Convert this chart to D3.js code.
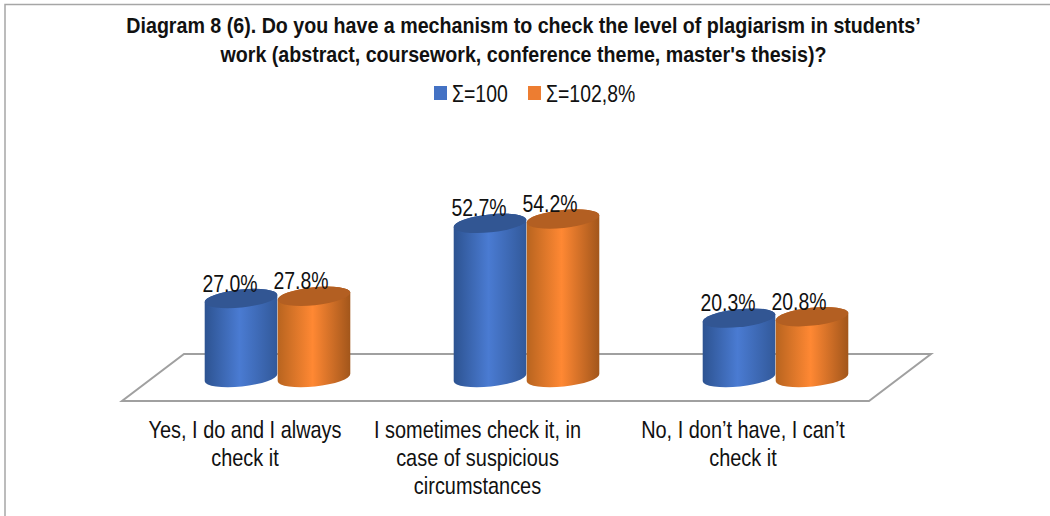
<!DOCTYPE html>
<html>
<head>
<meta charset="utf-8">
<script src="https://cdn.jsdelivr.net/npm/d3@7"></script>
<style>
  html, body { margin: 0; padding: 0; background: #fff; }
  text { font-family: "Liberation Sans", Arial, sans-serif; fill: #111; }
</style>
</head>
<body>
<div id="chart"></div>
<script>
var categories = ["Yes, I do and I always check it", "I sometimes check it, in case of suspicious circumstances", "No, I don\u2019t have, I can\u2019t check it"];
var categoryLines = [
  ["Yes, I do and I always", "check it"],
  ["I sometimes check it, in", "case of suspicious", "circumstances"],
  ["No, I don\u2019t have, I can\u2019t", "check it"]
];
var seriesNames = ["\u03a3=100", "\u03a3=102,8%"];
var series1 = [27.0, 52.7, 20.3];
var series2 = [27.8, 54.2, 20.8];
var titleLines = [
  "Diagram 8 (6). Do you have a mechanism to check the level of plagiarism in students\u2019",
  "work (abstract, coursework, conference theme, master's thesis)?"
];

var width = 1050, height = 516;
var floorLeft = 122, floorRight = 869, floorFront = 401, floorBack = 354, depth = 62;
var baseY = (floorFront + floorBack) / 2;
var rx = 36.5, ry = 9, tilt = -6 * Math.PI / 180;

var svg = d3.select("#chart").append("svg")
  .attr("width", width)
  .attr("height", height)
  .style("display", "block");

var x0 = d3.scaleBand().domain(categories).range([floorLeft, floorRight]);
var x1 = d3.scaleBand().domain(seriesNames).range([-2 * rx, 2 * rx]);
var y = d3.scaleLinear().domain([0, 60]).range([baseY, baseY - 175.5]);

// the original font is condensed, so squeeze the text sideways
function squeeze(px, py, sx) {
  return "translate(" + px + "," + py + ") scale(" + sx + ",1)";
}

// gradients for the cylinder sides
var defs = svg.append("defs");
var gradients = [
  ["#2d5391", "#4a7bd2", "#32599a"],
  ["#b8641f", "#ff8833", "#a2561b"]
];
gradients.forEach(function(g, i) {
  var lg = defs.append("linearGradient").attr("id", "side" + i);
  lg.append("stop").attr("offset", "0%").attr("stop-color", g[0]);
  lg.append("stop").attr("offset", "48%").attr("stop-color", g[1]);
  lg.append("stop").attr("offset", "100%").attr("stop-color", g[2]);
});
var topColors = ["#325693", "#b35f22"];
var legendColors = ["#4472c4", "#ed7d31"];

// outer frame, only the left and top edges are in the crop
svg.append("path")
  .attr("d", "M5,516V4.5H1050")
  .attr("fill", "none")
  .attr("stroke", "#a6a6a6")
  .attr("stroke-width", 1.5);

// title
svg.append("g").selectAll("text")
  .data(titleLines)
  .enter().append("text")
  .attr("transform", function(d, i) { return squeeze(523.5, 33 + i * 28.5, 0.893); })
  .attr("text-anchor", "middle")
  .attr("font-size", 22)
  .attr("font-weight", "bold")
  .text(function(d) { return d; });

// legend
var legendX = [434, 528];
var legend = svg.append("g").selectAll("g")
  .data(seriesNames)
  .enter().append("g")
  .attr("transform", function(d, i) { return "translate(" + legendX[i] + ",86)"; });
legend.append("rect")
  .attr("width", 13)
  .attr("height", 14)
  .attr("fill", function(d, i) { return legendColors[i]; });
legend.append("text")
  .attr("transform", squeeze(18, 15.5, 0.81))
  .attr("font-size", 24)
  .text(function(d) { return d; });

// floor
svg.append("path")
  .attr("d", d3.line()([
    [floorLeft, floorFront], [floorRight, floorFront],
    [floorRight + depth, floorBack], [floorLeft + depth, floorBack]
  ]) + "Z")
  .attr("fill", "#fff")
  .attr("stroke", "#a0a0a0")
  .attr("stroke-width", 2);

function cylinderSide(cx, top) {
  var dx = rx * Math.cos(tilt), dy = rx * Math.sin(tilt);
  return "M" + (cx - dx) + "," + (top - dy) +
    "L" + (cx - dx) + "," + (baseY - dy) +
    "A" + rx + "," + ry + " -6 0 0 " + (cx + dx) + "," + (baseY + dy) +
    "L" + (cx + dx) + "," + (top + dy) +
    "A" + rx + "," + ry + " -6 0 0 " + (cx - dx) + "," + (top - dy) + "Z";
}

var rows = [];
categories.forEach(function(c, i) {
  rows.push({ cat: c, s: 0, value: series1[i] });
  rows.push({ cat: c, s: 1, value: series2[i] });
});
function centerX(d) {
  return x0(d.cat) + x0.bandwidth() / 2 + depth / 2 + x1(seriesNames[d.s]) + x1.bandwidth() / 2;
}

var bars = svg.append("g").selectAll("g")
  .data(rows)
  .enter().append("g");
bars.append("path")
  .attr("d", function(d) { return cylinderSide(centerX(d), y(d.value)); })
  .attr("fill", function(d) { return "url(#side" + d.s + ")"; });
bars.append("ellipse")
  .attr("rx", rx)
  .attr("ry", ry)
  .attr("transform", function(d) {
    return "translate(" + centerX(d) + "," + y(d.value) + ") rotate(-6)";
  })
  .attr("fill", function(d) { return topColors[d.s]; });

// value labels sit above the cylinder tops
svg.append("g").selectAll("text")
  .data(rows)
  .enter().append("text")
  .attr("transform", function(d) { return squeeze(centerX(d) - 11 - 2 * d.s, y(d.value) - 7, 0.81); })
  .attr("text-anchor", "middle")
  .attr("font-size", 24)
  .text(function(d) { return d.value.toFixed(1) + "%"; });

// category labels, the middle one sits left of its band in the original
var labelShift = [-1.5, -18, -1.5];
var labels = svg.append("g").selectAll("text")
  .data(categories)
  .enter().append("text")
  .attr("transform", function(d, i) { return squeeze(x0(d) + x0.bandwidth() / 2 + labelShift[i], 0, 0.83); })
  .attr("text-anchor", "middle")
  .attr("font-size", 24);
labels.selectAll("tspan")
  .data(function(d, i) { return categoryLines[i]; })
  .enter().append("tspan")
  .attr("x", 0)
  .attr("y", function(d, i) { return 438 + i * 28; })
  .text(function(d) { return d; });
</script>
</body>
</html>
